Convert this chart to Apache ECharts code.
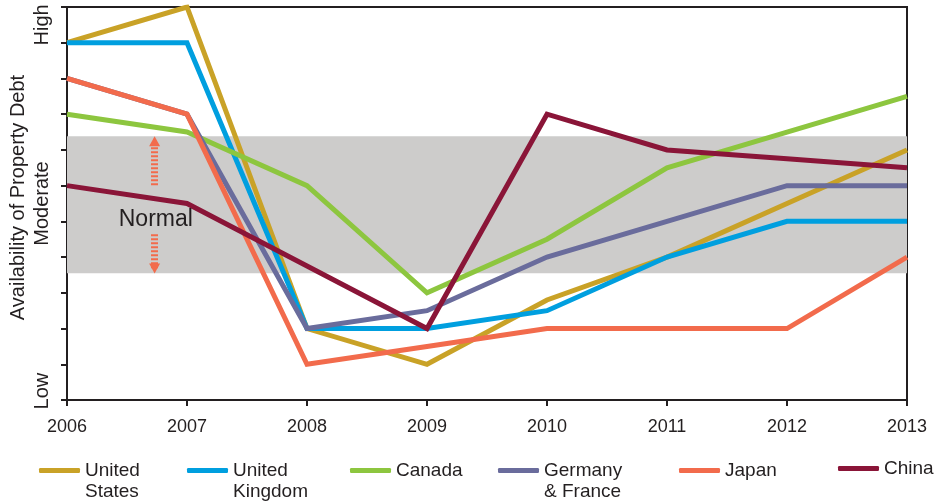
<!DOCTYPE html>
<html>
<head>
<meta charset="utf-8">
<style>
  html, body { margin: 0; padding: 0; background: #fff; }
  #chart { width: 952px; height: 504px; }
</style>
<script src="https://cdn.jsdelivr.net/npm/echarts@6/dist/echarts.min.js"></script>
</head>
<body>
<div id="chart"></div>
<script>
// Availability of property debt by country, 2006-2013 (0 = Low ... 11 = High)
const years = [2006, 2007, 2008, 2009, 2010, 2011, 2012, 2013]
const unitedStates = [10, 11, 2, 1, 2.8, 4, 5.5, 7]
const unitedKingdom = [10, 10, 2, 2, 2.5, 4, 5, 5]
const canada = [8, 7.5, 6, 3, 4.5, 6.5, 7.5, 8.5]
const germanyFrance = [9, 8, 2, 2.5, 4, 5, 6, 6]
const japan = [9, 8, 1, 1.5, 2, 2, 2, 4]
const china = [6, 5.5, 3.75, 2, 8, 7, 6.75, 6.5]

// y-axis word labels and where they sit on the scale
const levelLabels = { 0.25: 'Low', 5.5: 'Moderate', 10.5: 'High' }

// the "normal" band and its annotation
const normalBand = [3.55, 7.38]
const arrowX = 2006.73
const arrowUp = [6.01, 7.24]
const arrowDown = [4.64, 3.68]
const normalLabelPos = [2006.74, 5.06]

const INK = '#231f20'
const FONT = '"Liberation Sans", Arial, sans-serif'

const countries = [
  { name: 'United States', label: 'United\nStates', data: unitedStates, color: '#c9a227', left: 39 },
  { name: 'United Kingdom', label: 'United\nKingdom', data: unitedKingdom, color: '#009fdf', left: 187 },
  { name: 'Canada', label: 'Canada', data: canada, color: '#8dc63f', left: 350 },
  { name: 'Germany & France', label: 'Germany\n& France', data: germanyFrance, color: '#6a6c9c', left: 498 },
  { name: 'Japan', label: 'Japan', data: japan, color: '#f26b4c', left: 679 },
  { name: 'China', label: 'China', data: china, color: '#8a1538', left: 838 },
]

const pairs = (vals) => years.map((y, i) => [y, vals[i]])

// two-line names get an empty first line so the icon sits level with the first line
const legends = countries.map((c) => {
  const twoLine = c.label.indexOf('\n') >= 0
  return {
    data: [c.name],
    left: c.left,
    top: twoLine ? 439 : (c.name === 'China' ? 458 : 460),
    orient: 'horizontal',
    padding: 0,
    icon: 'roundRect',
    itemWidth: 41,
    itemHeight: 5,
    selectedMode: false,
    formatter: () => (twoLine ? ' \n' + c.label : c.label),
    textStyle: {
      color: INK,
      fontFamily: FONT,
      fontSize: 19,
      lineHeight: 21,
    },
  }
})

const lineSeries = countries.map((c) => ({
  name: c.name,
  type: 'line',
  data: pairs(c.data),
  symbol: 'none',
  z: 3,
  color: c.color,
  lineStyle: { color: c.color, width: 5, join: 'miter', cap: 'butt' },
  emphasis: { disabled: true },
}))

const arrowStyle = { color: '#f26b4c', width: 7, type: [2, 2] }

const bandSeries = {
  name: 'band',
  type: 'line',
  data: [],
  z: 1,
  silent: true,
  markArea: {
    silent: true,
    itemStyle: { color: '#cdcccb' },
    data: [[
      { xAxis: years[0], yAxis: normalBand[0] },
      { xAxis: years[years.length - 1], yAxis: normalBand[1] },
    ]],
  },
  markLine: {
    silent: true,
    symbol: ['none', 'triangle'],
    symbolSize: [11, 10],
    label: { show: false },
    lineStyle: arrowStyle,
    data: [
      [{ coord: [arrowX, arrowUp[0]] }, { coord: [arrowX, arrowUp[1]] }],
      [{ coord: [arrowX, arrowDown[0]] }, { coord: [arrowX, arrowDown[1]] }],
    ],
  },
  markPoint: {
    silent: true,
    symbol: 'circle',
    symbolSize: 1,
    itemStyle: { color: 'rgba(0,0,0,0)' },
    label: {
      show: true,
      position: 'inside',
      formatter: 'Normal',
      color: INK,
      fontFamily: FONT,
      fontSize: 23,
    },
    data: [{ coord: normalLabelPos }],
  },
}

const chart = echarts.init(document.getElementById('chart'), null, { renderer: 'canvas' })

chart.setOption({
  animation: false,
  backgroundColor: '#fff',
  legend: legends,
  grid: {
    left: 64,
    right: 45,
    top: 7,
    bottom: 104,
    show: true,
    borderColor: INK,
    borderWidth: 2,
    backgroundColor: 'transparent',
  },
  xAxis: {
    type: 'value',
    min: 2006,
    max: 2013,
    interval: 1,
    splitLine: { show: false },
    axisLine: { lineStyle: { color: INK, width: 2 } },
    axisTick: { show: true, length: 6, lineStyle: { color: INK, width: 2 } },
    axisLabel: {
      margin: 18,
      color: INK,
      fontFamily: FONT,
      fontSize: 18,
      formatter: (v) => String(v),
    },
  },
  yAxis: [
    {
      type: 'value',
      min: 0,
      max: 11,
      interval: 1,
      name: 'Availability of Property Debt',
      nameLocation: 'middle',
      nameRotate: 90,
      nameGap: 39,
      nameTextStyle: { color: INK, fontFamily: FONT, fontSize: 20, padding: [0, 0, 0, 12] },
      splitLine: { show: false },
      axisLine: { show: true, lineStyle: { color: INK, width: 2 } },
      axisTick: { show: true, length: 6, lineStyle: { color: INK, width: 2 } },
      axisLabel: { show: false },
    },
    {
      type: 'value',
      min: 0,
      max: 11,
      interval: 0.25,
      position: 'left',
      splitLine: { show: false },
      axisLine: { show: false },
      axisTick: { show: false },
      axisLabel: {
        rotate: 90,
        margin: 15,
        color: INK,
        fontFamily: FONT,
        fontSize: 20,
        showMinLabel: true,
        showMaxLabel: true,
        formatter: (v) => levelLabels[v] || '',
      },
    },
  ],
  series: [bandSeries].concat(lineSeries),
})

window.addEventListener('resize', () => chart.resize())
</script>
</body>
</html>
